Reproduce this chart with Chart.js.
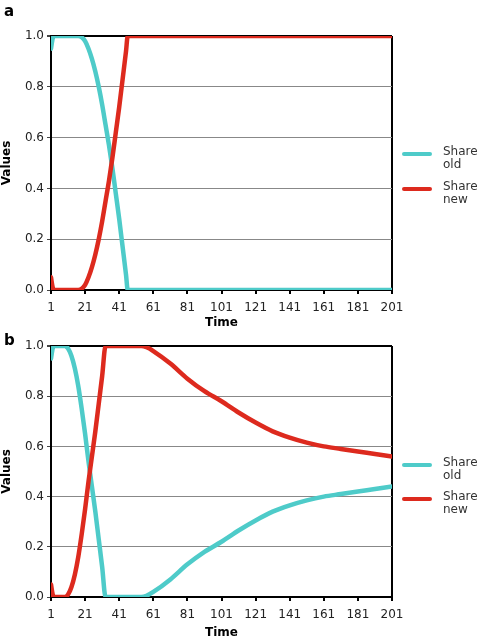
<!DOCTYPE html>
<html>
<head>
<meta charset="utf-8">
<script src="https://cdn.jsdelivr.net/npm/chart.js@4/dist/chart.umd.min.js"></script>
<style>
  body { margin: 0; background: #fff; font-family: "DejaVu Sans", Verdana, sans-serif; }
  #wrap { position: relative; width: 478px; height: 640px; }
  canvas { position: absolute; left: 0; }
  .panel { position: absolute; left: 4px; font-weight: bold; font-size: 15px; color: #000; }
  .leg { position: absolute; left: 402px; width: 76px; }
  .leg .sw { position: absolute; left: 0; width: 30px; height: 4px; border-radius: 2px; }
  .leg .tx { position: absolute; left: 41px; font-size: 12px; line-height: 13px; color: #333; }
</style>
</head>
<body>
<div id="wrap">
  <canvas id="chartA" width="478" height="330" style="top:0"></canvas>
  <canvas id="chartB" width="478" height="340" style="top:300px"></canvas>
  <div class="panel" style="top:2px">a</div>
  <div class="panel" style="top:331px">b</div>
  <div class="leg" style="top:152px"><div class="sw" style="background:#4ECBC9"></div><div class="tx" style="top:-7px">Share<br>old</div></div>
  <div class="leg" style="top:187px"><div class="sw" style="background:#DD2A1E"></div><div class="tx" style="top:-7px">Share<br>new</div></div>
  <div class="leg" style="top:463px"><div class="sw" style="background:#4ECBC9"></div><div class="tx" style="top:-7px">Share<br>old</div></div>
  <div class="leg" style="top:497px"><div class="sw" style="background:#DD2A1E"></div><div class="tx" style="top:-7px">Share<br>new</div></div>
</div>
<script>
// ticks on the time axis
const xTicks = [1, 21, 41, 61, 81, 101, 121, 141, 161, 181, 201];

// panel a
const timeA = [1, 2, 3, 17, 19, 21, 23, 25, 27, 29, 31, 33, 35, 37, 39, 41, 43, 45, 46, 201];
const oldA  = [0.95, 0.99, 1, 1, 0.995, 0.98, 0.95, 0.91, 0.86, 0.8, 0.73, 0.65, 0.57, 0.48, 0.38, 0.28, 0.17, 0.06, 0, 0];
const newA  = [0.05, 0.01, 0, 0, 0.005, 0.02, 0.05, 0.09, 0.14, 0.2, 0.27, 0.35, 0.43, 0.52, 0.62, 0.72, 0.83, 0.94, 1, 1];

// panel b
const timeB = [1, 2, 3, 9, 11, 13, 15, 17, 19, 21, 23, 25, 27, 29, 31, 33, 54, 57, 61, 71, 81, 91, 101, 111, 121, 131, 141, 151, 161, 171, 181, 191, 201];
const newB  = [0.05, 0.01, 0, 0, 0.01, 0.04, 0.09, 0.16, 0.25, 0.35, 0.46, 0.56, 0.66, 0.77, 0.88, 1, 1, 0.995, 0.98, 0.93, 0.87, 0.82, 0.78, 0.735, 0.695, 0.66, 0.635, 0.615, 0.6, 0.59, 0.58, 0.57, 0.56];
const oldB  = [0.95, 0.99, 1, 1, 0.99, 0.96, 0.91, 0.84, 0.75, 0.65, 0.54, 0.44, 0.34, 0.23, 0.12, 0, 0, 0.005, 0.02, 0.07, 0.13, 0.18, 0.22, 0.265, 0.305, 0.34, 0.365, 0.385, 0.4, 0.41, 0.42, 0.43, 0.44];

const CYAN = "#4ECBC9";
const RED = "#DD2A1E";

function pts(xs, ys) {
  return xs.map((x, i) => ({ x: x, y: ys[i] }));
}

function crear(id, time, oldv, newv, padTop, plotBottom, canvasH) {
  const ctx = document.getElementById(id);
  return new Chart(ctx, {
    type: "line",
    data: {
      datasets: [
        { label: "Share old", data: pts(time, oldv), borderColor: CYAN, order: 1 },
        { label: "Share new", data: pts(time, newv), borderColor: RED, order: 0 }
      ]
    },
    options: {
      responsive: false,
      animation: false,
      layout: { padding: { top: padTop, right: 86, bottom: 0, left: 0 } },
      elements: {
        point: { radius: 0 },
        line: { borderWidth: 4.5, cubicInterpolationMode: "monotone", borderCapStyle: "round", borderJoinStyle: "round", fill: false }
      },
      plugins: { legend: { display: false }, tooltip: { enabled: false } },
      scales: {
        x: {
          type: "linear",
          min: 1,
          max: 201,
          afterBuildTicks: s => { s.ticks = xTicks.map(v => ({ value: v })); },
          afterFit: s => { s.height = canvasH - plotBottom; },
          ticks: { color: "#222", font: { family: "DejaVu Sans", size: 12 }, padding: 7, maxRotation: 0 },
          grid: {
            color: c => (c.tick && c.tick.value === 201 ? "#000" : "transparent"),
            lineWidth: 2,
            tickColor: "#000",
            tickLength: 4
          },
          border: { color: "#000", width: 2 },
          title: { display: true, text: "Time", color: "#000", font: { family: "DejaVu Sans", size: 12, weight: "bold" }, padding: { top: 0, bottom: 0 } }
        },
        y: {
          min: 0,
          max: 1,
          afterFit: s => { s.width = 51; },
          ticks: { stepSize: 0.2, color: "#222", font: { family: "DejaVu Sans", size: 12 }, padding: 3, callback: v => v.toFixed(1) },
          grid: {
            color: c => (c.tick && c.tick.value === 1 ? "#000" : "#888"),
            lineWidth: c => (c.tick && c.tick.value === 1 ? 2 : 1),
            tickColor: "#444",
            tickLength: 4
          },
          border: { color: "#000", width: 2 },
          title: { display: true, text: "Values", color: "#000", font: { family: "DejaVu Sans", size: 12, weight: "bold" }, padding: { top: 0, bottom: 2 } }
        }
      }
    }
  });
}

crear("chartA", timeA, oldA, newA, 36, 290, 330);
crear("chartB", timeB, oldB, newB, 46, 297, 340);
</script>
</body>
</html>
